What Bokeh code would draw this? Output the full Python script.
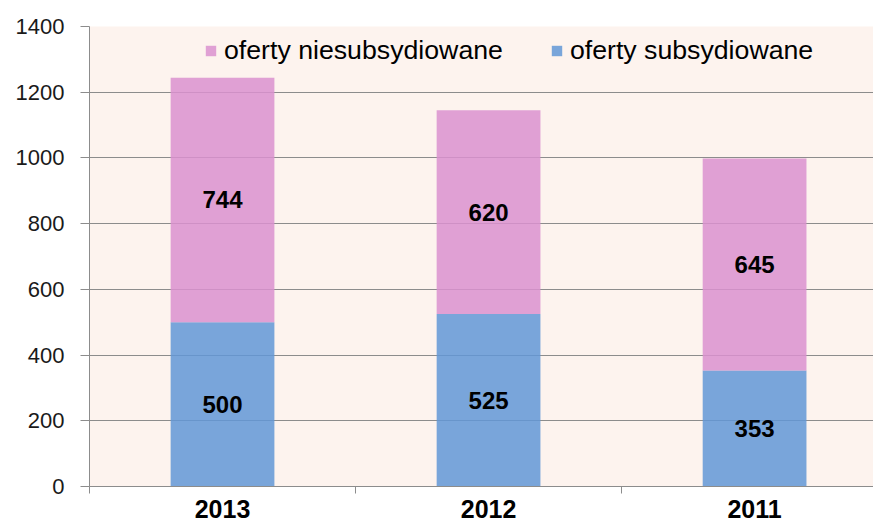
from bokeh.plotting import figure
from bokeh.models import (ColumnDataSource, Range1d, FixedTicker, Legend, LegendItem)
from bokeh.core.properties import value
from bokeh.embed import file_html
from bokeh.resources import INLINE
import numpy as np

years = ["2013", "2012", "2011"]
subsydiowane = [500, 525, 353]
niesubsydiowane = [744, 620, 645]
series_names = ["oferty niesubsydiowane", "oferty subsydiowane"]
y_ticks = [0, 200, 400, 600, 800, 1000, 1200, 1400]

FONT = "Liberation Sans"
BG = "#FDF3EE"
BLUE = "#6297D6"
PINK = "#DA91CF"
GRID = "#8C8C8C"

xs = np.arange(len(years))
sub = np.array(subsydiowane, dtype=float)
nie = np.array(niesubsydiowane, dtype=float)

src = ColumnDataSource(dict(
    x=xs, sub=sub, nie=nie, top=sub + nie,
    sub_mid=sub / 2, nie_mid=sub + nie / 2,
    sub_lbl=[str(v) for v in subsydiowane],
    nie_lbl=[str(v) for v in niesubsydiowane],
))

p = figure(width=873, height=528, output_backend="svg", toolbar_location=None,
           x_range=Range1d(-0.5, 2.447), y_range=Range1d(0, 1400),
           min_border_left=89, min_border_right=0, min_border_top=26,
           min_border_bottom=42)
p.background_fill_color = BG
p.border_fill_color = "white"
p.outline_line_color = None

W = 0.39
r_sub = p.vbar(x="x", bottom=0, top="sub", width=W, source=src,
               fill_color=BLUE, fill_alpha=0.85, line_color=None)
r_nie = p.vbar(x="x", bottom="sub", top="top", width=W, source=src,
               fill_color=PINK, fill_alpha=0.85, line_color=None)

for col, lbl in (("sub_mid", "sub_lbl"), ("nie_mid", "nie_lbl")):
    p.text(x="x", y=col, text=lbl, source=src, text_align="center",
           text_baseline="middle", text_font=value(FONT),
           text_font_size="24px", text_font_style="bold", text_color="black")

# grid
p.xgrid.grid_line_color = None
p.ygrid.grid_line_color = GRID
p.ygrid.grid_line_width = 1
p.ygrid.ticker = FixedTicker(ticks=y_ticks)

# y axis
ya = p.yaxis[0]
ya.ticker = FixedTicker(ticks=y_ticks)
ya.axis_line_color = GRID
ya.major_tick_line_color = GRID
ya.major_tick_out = 9
ya.major_tick_in = 0
ya.minor_tick_line_color = None
ya.major_label_standoff = 16
ya.major_label_text_font = FONT
ya.major_label_text_font_size = "22px"
ya.major_label_text_color = "#1a1a1a"

# x axis
xa = p.xaxis[0]
xa.ticker = FixedTicker(ticks=list(xs), minor_ticks=[-0.5, 0.5, 1.5, 2.5])
xa.major_label_overrides = {int(i): y for i, y in zip(xs, years)}
xa.axis_line_color = GRID
xa.major_tick_line_color = None
xa.major_tick_out = 0
xa.major_tick_in = 0
xa.minor_tick_line_color = GRID
xa.minor_tick_out = 7
xa.minor_tick_in = 0
xa.major_label_standoff = 6
xa.major_label_text_font = FONT
xa.major_label_text_font_size = "25px"
xa.major_label_text_font_style = "bold"
xa.major_label_text_color = "black"

legend = Legend(items=[LegendItem(label=series_names[0], renderers=[r_nie]),
                       LegendItem(label=series_names[1], renderers=[r_sub])],
                orientation="horizontal", location=(115, 420),
                padding=0, margin=0, spacing=47, label_standoff=7,
                glyph_width=13, glyph_height=13,
                label_text_font=FONT, label_text_font_size="26.7px",
                label_text_color="black",
                background_fill_alpha=0, border_line_color=None)
p.add_layout(legend)

open("out.html", "w").write(file_html(p, INLINE))
